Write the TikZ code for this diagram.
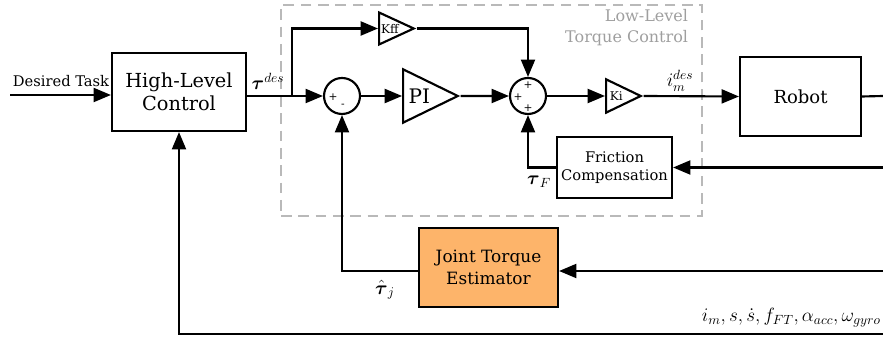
\documentclass[tikz,border=0pt]{standalone}
\usepackage{amsmath,amssymb}
\usepackage{fontspec}
\setmainfont{DejaVu Serif}
\usepackage{tikz}
\usetikzlibrary{positioning, arrows.meta, calc, shapes.geometric}
\definecolor{estorange}{RGB}{253,180,106}

\begin{document}
\begin{tikzpicture}[
    x=0.75pt, y=-0.75pt,
    box/.style={draw, line width=1.6pt, align=center, inner sep=0pt,
                font=\fontsize{12.5}{15}\selectfont},
    sumnode/.style={draw, circle, line width=1.6pt, minimum size=27pt, inner sep=0pt},
    gain/.style={draw, isosceles triangle, isosceles triangle stretches,
                 line width=1.6pt, inner sep=0pt, font=\fontsize{9}{9}\selectfont},
    sgn/.style={font=\fontsize{8}{8}\selectfont, inner sep=0pt},
    arr/.style={-{Triangle[length=13pt, width=10.5pt]}, line width=1.6pt},
    wire/.style={line width=1.6pt},
    sig/.style={font=\fontsize{14}{16}\selectfont, inner sep=0pt},
    dashbox/.style={draw=gray!55, dash pattern=on 8pt off 5pt, line width=1.5pt, inner sep=0pt},
    grouplbl/.style={text=gray!75, align=right, font=\fontsize{12}{15.5}\selectfont, inner sep=0pt},
]
\useasboundingbox (0,0) rectangle (883,341);

% Low-level loop frame
\node[dashbox, minimum width=315.75pt, minimum height=158.25pt] (llc) at (491.5,110.5) {};
\node[grouplbl, anchor=north east] (llclbl) at ([xshift=-11pt, yshift=-4pt]llc.north east) {Low-Level\\Torque Control};

% Forward path
\node[box, minimum width=100.5pt, minimum height=58.5pt,
      font=\fontsize{14.5}{17}\selectfont] (hlc) at (179,92) {High-Level\\Control};
\node[sumnode] (sum1) at (342,96) {};
\node[gain, right=30.75pt of sum1, minimum width=40pt, minimum height=41pt,
      font=\fontsize{15}{15}\selectfont] (pi) {PI};
\node[sumnode] (sum2) at (528,96) {};
\node[gain, anchor=west, minimum width=25pt, minimum height=26pt] (ki) at (605,96) {Ki};
\node[box, minimum width=90.75pt, minimum height=59.25pt,
      font=\fontsize{13.5}{16}\selectfont] (robot) at (800.5,96.5) {Robot};
\node[gain, anchor=west, minimum width=24pt, minimum height=26pt] (kff) at (378,28.5) {Kff};

% Signs
\node[sgn] at ($(sum1)+(-9,1)$) {+};
\node[sgn] at ($(sum1)+(1,10)$) {-};
\node[sgn] at ($(sum2)+(0,-11)$) {+};
\node[sgn] at ($(sum2)+(-10,1)$) {+};
\node[sgn] at ($(sum2)+(0,12)$) {+};

% Feedback blocks
\node[box, minimum width=86.25pt, minimum height=45.75pt,
      font=\fontsize{11}{14}\selectfont] (fric) at (614.5,167.5) {Friction\\Compensation};
\node[box, fill=estorange, minimum width=104.25pt, minimum height=59.25pt,
      font=\fontsize{12.7}{16}\selectfont] (jte) at (488.5,267.5) {Joint Torque\\Estimator};

% Free ends
\coordinate (task) at (10,95);
\coordinate (split) at (292,96);
\coordinate (robout) at (883,96);
\coordinate (fbfric) at (883,167.5);
\coordinate (fbjte) at (883,271);
\coordinate (fbhlc) at (883,334);

% Connectors
\draw[arr] (task) -- (task -| hlc.west);
\node[font=\fontsize{11}{13}\selectfont, inner sep=0pt] (tasklbl) at (61,81) {Desired Task};
\draw[arr] (hlc.east |- sum1) -- (sum1.west);
\draw[arr] (split) |- (kff.west);
\draw[arr] (sum1.east) -- (pi.west);
\draw[arr] (pi.east) -- (sum2.west);
\draw[arr] (sum2.east) -- (ki.west);
\draw[arr] (ki.east) -- (robot.west);
\draw[arr] (kff.east) -| (sum2.north);
\draw[wire] (robot.east) -- (robout);
\draw[arr] (fbfric) -- (fric.east);
\draw[arr] (fric.west) -| (sum2.south);
\draw[arr] (fbjte) -- (fbjte -| jte.east);
\draw[arr] (jte.west |- fbjte) -| (sum1.south);
\draw[arr] (fbhlc) -| (hlc.south);

% Signal labels
\node[sig] (taudes) at (268,81) {$\boldsymbol{\tau}^{des}$};
\node[sig] (imdes) at (680,81) {$i_m^{des}$};
\node[sig] (tauf) at (539,182) {$\boldsymbol{\tau}_F$};
\node[sig] (tauj) at (385,290) {$\hat{\boldsymbol{\tau}}_j$};
\node[sig, anchor=south east] (meas) at (881,327) {$i_m, s, \dot{s}, f_{FT}, \alpha_{acc}, \omega_{gyro}$};

\end{tikzpicture}
\end{document}
